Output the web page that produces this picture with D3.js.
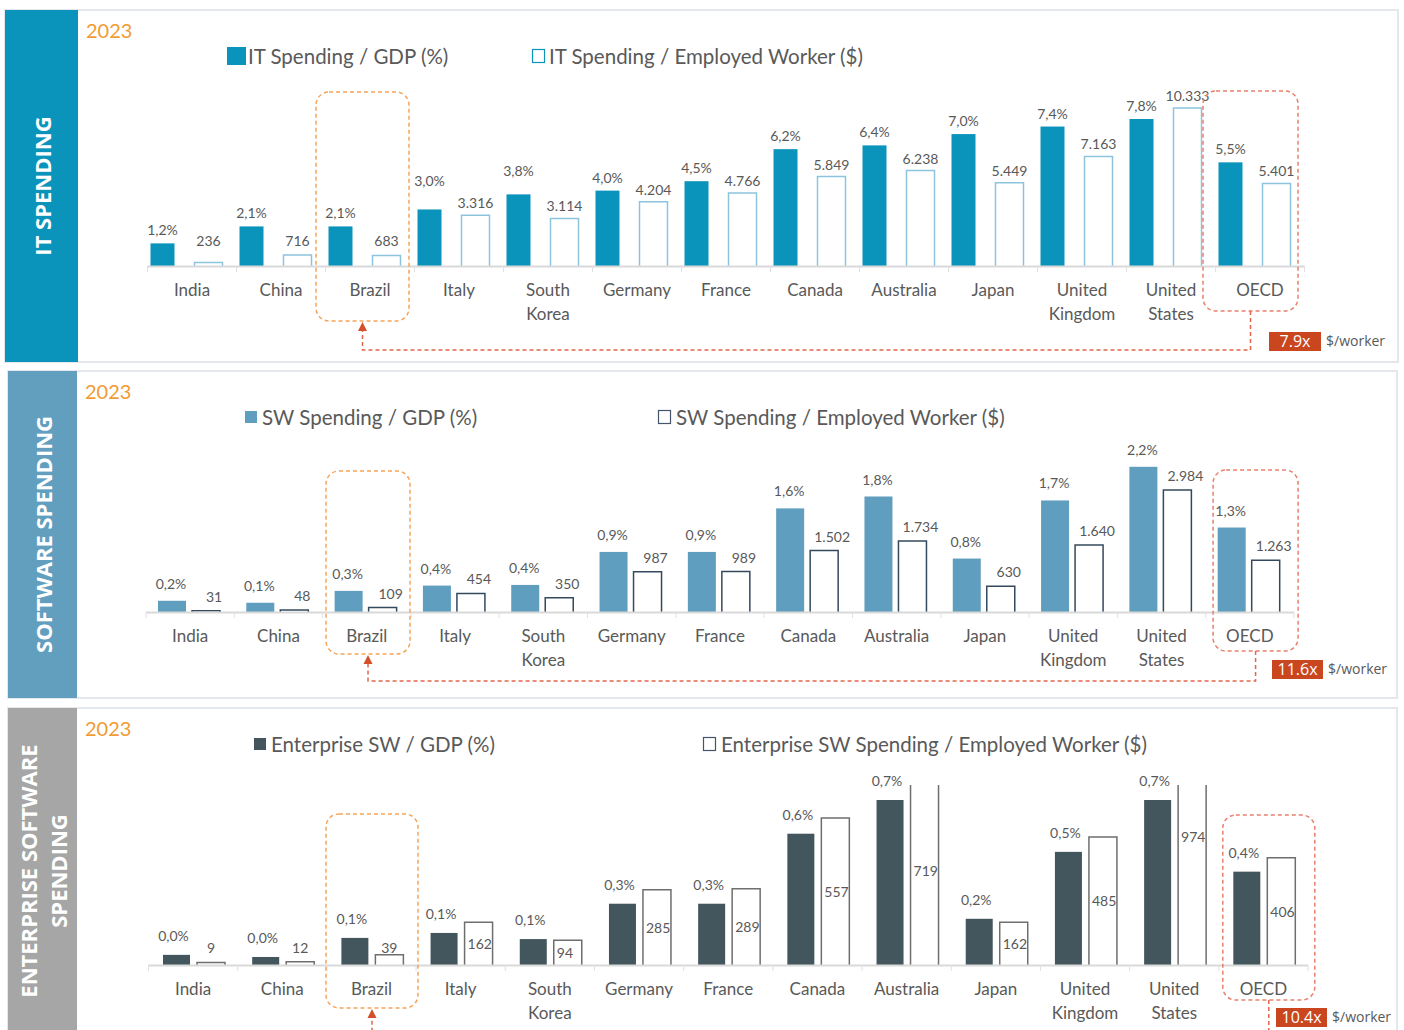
<!DOCTYPE html>
<html>
<head>
<meta charset="utf-8">
<script src="https://cdn.jsdelivr.net/npm/d3@7"></script>
<style>
  body { margin: 0; background: #fff; }
  svg { display: block; font-family: Lato, "Open Sans", sans-serif; }
  .val { font-size: 14px; fill: #595959; }
  .cat { font-size: 17px; fill: #595959; }
  .leg { font-size: 20.5px; fill: #595959; }
</style>
</head>
<body>
<script>
// categories (same order for all three charts)
var countries = ["India", "China", "Brazil", "Italy", "South Korea", "Germany", "France",
  "Canada", "Australia", "Japan", "United Kingdom", "United States", "OECD"];

// IT spending
var itGdp = [1.2, 2.1, 2.1, 3.0, 3.8, 4.0, 4.5, 6.2, 6.4, 7.0, 7.4, 7.8, 5.5];
var itWorker = [236, 716, 683, 3316, 3114, 4204, 4766, 5849, 6238, 5449, 7163, 10333, 5401];

// software spending
var swGdp = [0.17, 0.14, 0.32, 0.40, 0.41, 0.91, 0.91, 1.57, 1.75, 0.81, 1.69, 2.2, 1.28];
var swWorker = [31, 48, 109, 454, 350, 987, 989, 1502, 1734, 630, 1640, 2984, 1263];

// enterprise software spending
var entGdp = [0.043, 0.034, 0.115, 0.136, 0.11, 0.26, 0.26, 0.557, 0.70, 0.196, 0.48, 0.70, 0.396];
var entWorker = [9, 12, 39, 162, 94, 285, 289, 557, 719, 162, 485, 974, 406];

var titles = ["IT SPENDING", "SOFTWARE SPENDING", "ENTERPRISE SOFTWARE\nSPENDING"];
var legendGdp = ["IT Spending / GDP (%)", "SW Spending / GDP (%)", "Enterprise SW / GDP (%)"];
var legendWorker = ["IT Spending / Employed Worker ($)", "SW Spending / Employed Worker ($)",
  "Enterprise SW Spending / Employed Worker ($)"];
var ratios = ["7.9x", "11.6x", "10.4x"];
var year = "2023";

var W = 1404, H = 1030;
var svg = d3.select("body").append("svg").attr("width", W).attr("height", H);
var defs = svg.append("defs");

var comma = function(v) { return v.toFixed(1).replace(".", ",") + "%"; };
var thousands = function(v) { return d3.format(",")(v).replace(/,/g, "."); };

// layout of each panel (positions only)
var panels = [
  { gdp: itGdp, worker: itWorker, box: [5, 10, 1393, 352], side: 73, color: "#0a93bb",
    fill: "#0a93bb", stroke: "#8cc4de", x0: 147.5, x1: 1304.5, base: 266,
    pctPx: 147 / 7.8, wPx: 158 / 10333, fOff: 3, fW: 24, hOff: 47, hW: 28,
    pctUp: 8, wUp: 7, wDx: 0, pctDx: 0, nudge: { 3: 15, 4: 10 }, wMin: 20,
    leg: [227, 47, 19, 18, 248, 532, 549, 56],
    brazil: [-9.5, 93, 92, 321], oecd: [-12.5, 95, 91, 311], link: 350,
    badge: [1269, 332, 52, 19] },
  { gdp: swGdp, worker: swWorker, box: [8, 371, 1389, 327], side: 69, color: "#629fbf",
    fill: "#5f9ebe", stroke: "#34495e", x0: 146, x1: 1294, base: 612,
    pctPx: 66, wPx: 122 / 2984, fOff: 12, fW: 28, hOff: 46, hW: 28,
    pctUp: 12, wUp: 9, wDx: 8, pctDx: -1, nudge: {}, wMin: 0,
    leg: [245, 411, 12, 12, 262, 658, 676, 417],
    brazil: [3.4, 84, 471, 654], oecd: [7.4, 85, 470, 651], link: 681,
    badge: [1272, 660, 51, 19] },
  { gdp: entGdp, worker: entWorker, box: [8, 708, 1389, 340], side: 69, color: "#a6a6a6",
    fill: "#44565d", stroke: "#6e6e6e", x0: 148.5, x1: 1308, base: 965,
    pctPx: 165 / 0.7, wPx: 0.264, fOff: 14.5, fW: 27, hOff: 48.5, hW: 28,
    pctUp: 14, wUp: 0, wDx: 0, pctDx: -3, nudge: {}, wMin: 0, clipTop: 785, inside: true,
    leg: [254, 738, 12, 12, 271, 703, 721, 744],
    brazil: [-0.9, 92, 814, 1008], oecd: [4, 92, 815, 1000], link: 1040,
    badge: [1276, 1008, 51, 19] }
];

panels.forEach(function(p, pi) {
  var g = svg.append("g");

  // frame and side band
  g.append("rect").attr("x", p.box[0]).attr("y", p.box[1])
    .attr("width", p.box[2]).attr("height", p.box[3])
    .attr("fill", "#fff").attr("stroke", "#e4e7eb").attr("stroke-width", 2);
  g.append("rect").attr("x", p.box[0]).attr("y", p.box[1])
    .attr("width", p.side).attr("height", p.box[3]).attr("fill", p.color);

  var cx = p.box[0] + p.side / 2, cy = p.box[1] + p.box[3] / 2;
  if (pi == 2) cy = 871;
  var lines = titles[pi].split("\n");
  lines.forEach(function(t, li) {
    g.append("text")
      .attr("transform", "translate(" + (cx + (li - (lines.length - 1) / 2) * 30) + "," + cy + ") rotate(-90)")
      .attr("text-anchor", "middle").attr("dominant-baseline", "central")
      .style("font-family", "'Open Sans', sans-serif").style("font-weight", 700)
      .style("font-size", "22px").attr("fill", "#fff").text(t);
  });

  g.append("text").attr("x", p.box[0] + p.side + 8).attr("y", p.box[1] + 20)
    .attr("dominant-baseline", "central").style("font-size", "20px")
    .attr("fill", "#f29b33").text(year);

  // legend
  var L = p.leg;
  g.append("rect").attr("x", L[0]).attr("y", L[1]).attr("width", L[2]).attr("height", L[3])
    .attr("fill", p.fill);
  g.append("text").attr("class", "leg").attr("x", L[4]).attr("y", L[7])
    .attr("dominant-baseline", "central").text(legendGdp[pi]);
  g.append("rect").attr("x", L[5] + 0.5).attr("y", L[7] - 6.5).attr("width", 12).attr("height", 13)
    .attr("fill", "#fff").attr("stroke", pi == 0 ? "#0a93bb" : "#44546a").attr("stroke-width", 1.2);
  g.append("text").attr("class", "leg").attr("x", L[6]).attr("y", L[7])
    .attr("dominant-baseline", "central").text(legendWorker[pi]);

  // scales
  var x = d3.scaleBand().domain(countries).range([p.x0, p.x1]).padding(0);
  var maxG = d3.max(p.gdp), maxW = d3.max(p.worker);
  var yG = d3.scaleLinear().domain([0, maxG]).range([p.base, p.base - maxG * p.pctPx]);
  var yW = d3.scaleLinear().domain([0, maxW]).range([p.base, p.base - maxW * p.wPx]);

  var rows = countries.map(function(c, i) { return { c: c, i: i, g: p.gdp[i], w: p.worker[i] }; });

  var clipId = "clip" + pi;
  defs.append("clipPath").attr("id", clipId).append("rect")
    .attr("x", p.x0).attr("y", p.clipTop || 0)
    .attr("width", p.x1 - p.x0).attr("height", p.base + 2 - (p.clipTop || 0));

  var bars = g.append("g").attr("clip-path", "url(#" + clipId + ")");
  bars.selectAll(".f").data(rows).enter().append("rect")
    .attr("x", function(d) { return x(d.c) + p.fOff; })
    .attr("y", function(d) { return yG(d.g); })
    .attr("width", p.fW)
    .attr("height", function(d) { return p.base - yG(d.g); })
    .attr("fill", p.fill);

  // hollow bars: open top when clipped (drawn as a path)
  bars.selectAll(".h").data(rows).enter().append("path")
    .attr("d", function(d) {
      var l = x(d.c) + p.hOff, r = l + p.hW, t = yW(d.w);
      if (p.clipTop && t < p.clipTop) {
        t = p.clipTop;
        return "M" + l + "," + p.base + "V" + t + "M" + r + "," + t + "V" + p.base;
      }
      return "M" + l + "," + p.base + "V" + t + "H" + r + "V" + p.base;
    })
    .attr("fill", "#fff").attr("stroke", p.stroke).attr("stroke-width", 1.5);

  // axis
  var axis = g.append("g");
  axis.append("line").attr("x1", p.x0).attr("x2", p.x1)
    .attr("y1", p.base + 0.5).attr("y2", p.base + 0.5)
    .attr("stroke", "#d9d9d9").attr("stroke-width", 2);
  axis.selectAll(".tk").data(countries.concat(["end"])).enter().append("line")
    .attr("x1", function(d, i) { return p.x0 + i * x.bandwidth(); })
    .attr("x2", function(d, i) { return p.x0 + i * x.bandwidth(); })
    .attr("y1", p.base).attr("y2", p.base + 6)
    .attr("stroke", "#e0e0e0").attr("stroke-width", 1);

  // category labels
  var cats = g.selectAll(".cat").data(rows).enter().append("text").attr("class", "cat")
    .attr("text-anchor", "middle")
    .attr("x", function(d) { return x(d.c) + x.bandwidth() / 2; });
  cats.each(function(d) {
    var parts = d.c.split(" ");
    var t = d3.select(this);
    parts.forEach(function(s, k) {
      t.append("tspan").attr("x", x(d.c) + x.bandwidth() / 2)
        .attr("y", p.base + 30 + k * 23.5).text(s);
    });
  });

  // value labels
  g.selectAll(".vg").data(rows).enter().append("text").attr("class", "val")
    .attr("text-anchor", "middle")
    .attr("x", function(d) { return x(d.c) + p.fOff + p.fW / 2 + p.pctDx; })
    .attr("y", function(d) { return yG(d.g) - p.pctUp - (p.nudge[d.i] || 0); })
    .text(function(d) { return comma(d.g); });

  g.selectAll(".vw").data(rows).enter().append("text").attr("class", "val")
    .attr("text-anchor", function(d) {
      return p.inside && p.base - yW(d.w) > 20 ? "start" : "middle";
    })
    .attr("dominant-baseline", function(d) {
      return p.inside && p.base - yW(d.w) > 20 ? "central" : "auto";
    })
    .attr("x", function(d) {
      var l = x(d.c) + p.hOff;
      if (p.inside && p.base - yW(d.w) > 20) return l + 3;
      return l + p.hW / 2 + p.wDx;
    })
    .attr("y", function(d) {
      var t = yW(d.w);
      if (p.inside) {
        if (p.base - t > 20) return (t + p.base) / 2;
        return Math.min(t - 1, p.base - 12);
      }
      return Math.min(t - p.wUp, p.base - p.wMin);
    })
    .text(function(d) { return thousands(d.w); });

  // highlight boxes
  var bx = x("Brazil"), ox = x("OECD");
  var bCx = bx + p.brazil[0] + p.brazil[1] / 2, oCx = ox + p.oecd[0] + p.oecd[1] / 2;
  g.append("rect").attr("x", bx + p.brazil[0]).attr("y", p.brazil[2])
    .attr("width", p.brazil[1]).attr("height", p.brazil[3] - p.brazil[2])
    .attr("rx", 13).attr("fill", "none").attr("stroke", "#f5a55a")
    .attr("stroke-width", 1.5).attr("stroke-dasharray", "4,3");
  g.append("rect").attr("x", ox + p.oecd[0]).attr("y", p.oecd[2])
    .attr("width", p.oecd[1]).attr("height", p.oecd[3] - p.oecd[2])
    .attr("rx", 13).attr("fill", "none").attr("stroke", "#e8806c")
    .attr("stroke-width", 1.5).attr("stroke-dasharray", "4,3");

  // connector with arrow to Brazil
  g.append("path")
    .attr("d", "M" + oCx + "," + p.oecd[3] + "V" + p.link + "H" + bCx + "V" + (p.brazil[3] + 8))
    .attr("fill", "none").attr("stroke", "#e2674a").attr("stroke-width", 1.5)
    .attr("stroke-dasharray", "4,3");
  g.append("path")
    .attr("d", "M" + bCx + "," + (p.brazil[3] + 1) + "L" + (bCx - 4.5) + "," + (p.brazil[3] + 10) +
      "L" + (bCx + 4.5) + "," + (p.brazil[3] + 10) + "Z")
    .attr("fill", "#d4502a");

  // ratio badge
  var B = p.badge;
  g.append("rect").attr("x", B[0]).attr("y", B[1]).attr("width", B[2]).attr("height", B[3])
    .attr("fill", "#c9461f");
  g.append("text").attr("x", B[0] + B[2] / 2).attr("y", B[1] + B[3] / 2).attr("dy", "0.35em")
    .attr("text-anchor", "middle")
    .style("font-family", "'Open Sans', sans-serif").style("font-size", "16px")
    .attr("fill", "#fff").text(ratios[pi]);
  g.append("text").attr("x", B[0] + B[2] + 5).attr("y", B[1] + B[3] / 2).attr("dy", "0.35em")
    .style("font-family", "'Open Sans', sans-serif").style("font-size", "14px")
    .attr("fill", "#595959").text("$/worker");
});
</script>
</body>
</html>
